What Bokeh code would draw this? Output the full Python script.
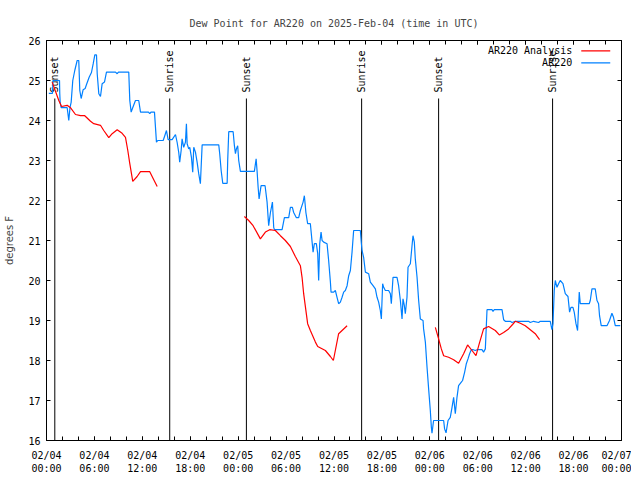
import math
from bokeh.plotting import figure
from bokeh.models import FixedTicker, LinearAxis, Range1d
from bokeh.core.properties import value
from bokeh.embed import file_html
from bokeh.resources import INLINE

title_text = "Dew Point for AR220 on 2025-Feb-04 (time in UTC)"
y_label = "degrees F"
obs_name = "AR220"
ana_name = "AR220 Analysis"

# hours since 2025-02-04 00:00 UTC
obs_hours = [0.29, 0.75, 0.81, 1.63, 1.66, 1.71, 1.84, 2.59, 2.79, 2.94, 3.09, 3.29, 3.54, 3.84, 4.04,
             4.17, 4.34, 4.59, 4.84, 5.01, 5.34, 5.63, 5.85, 6.05, 6.26, 6.35, 6.55, 6.76, 6.97, 7.26,
             7.51, 8.64, 8.85, 9.01, 10.30, 10.43, 10.60, 10.76, 11.14, 11.55, 11.77, 12.77, 12.93, 13.08, 13.52,
             13.77, 13.93, 14.61, 14.81, 15.02, 15.23, 15.73, 16.15, 16.36, 16.56, 16.68, 16.86, 16.98, 17.18,
             17.40, 17.52, 17.61, 17.81, 17.94, 18.15, 18.31, 18.44, 18.65, 18.86, 19.06, 19.27, 19.49, 21.57,
             21.69, 21.87, 22.07, 22.62, 22.69, 22.82, 23.37, 23.53, 23.66, 23.78, 23.94, 24.07, 24.28, 26.03,
             26.25, 26.37, 26.50, 26.62, 26.87, 27.37, 27.62, 27.82, 28.04, 28.29, 28.45, 28.54, 29.50, 29.79,
             30.33, 30.54, 30.79, 30.95, 31.29, 31.58, 31.79, 32.13, 32.29, 32.48, 32.70,
             33.04, 33.26, 33.38, 33.54, 33.79, 33.96, 34.08, 34.21, 34.38, 34.51, 34.71, 35.13, 35.33, 35.55,
             35.63, 35.96, 36.17, 36.38, 36.58, 36.80, 37.01, 37.21, 37.42, 37.64, 37.84, 38.05, 38.26, 38.46,
             39.30, 39.43, 39.51, 39.71, 39.93, 40.34, 40.55, 40.89, 41.18, 41.39, 41.59, 41.80, 41.93, 42.09,
             42.22, 42.43, 42.84, 43.06, 43.18, 43.39, 43.89, 44.09, 44.31, 44.52, 44.64, 44.81, 44.93, 45.14,
             45.27, 45.56, 45.77, 45.89, 46.06, 46.18, 46.40, 46.60, 46.81, 47.15, 47.22,
             47.44, 47.65, 47.85, 48.06, 48.19, 48.27, 48.47, 49.73, 49.85, 50.03, 50.28, 50.56, 50.78, 50.98,
             51.19, 51.40, 51.60, 51.94, 52.10, 52.36, 52.57, 52.78, 52.98, 53.19, 53.44, 53.69, 53.91, 54.53,
             54.73, 54.95, 55.16, 55.78, 55.91, 56.07, 57.04, 57.24, 57.45, 58.07, 58.29, 58.70, 60.36, 60.58,
             60.99, 61.62, 61.83, 63.08, 63.29, 63.42, 63.58,
             63.71, 63.92, 64.12, 64.33, 64.67, 64.96, 65.30, 65.50, 65.67, 65.92, 66.08, 66.30, 66.50, 66.71,
             66.84, 67.96, 68.09, 68.30, 68.71, 68.93, 69.13, 69.25, 69.46, 70.18, 70.50, 70.80, 71.00, 71.22, 71.84]
obs_values = [24.68, 24.68, 25.0, 25.0, 24.68, 24.46, 24.32, 24.32, 24.0, 24.32, 24.46, 25.0, 25.25, 25.5, 25.5,
              24.75, 24.55, 24.77, 24.8, 24.9, 25.08, 25.2, 25.42, 25.64, 25.64, 25.17, 24.67, 24.6, 24.92, 24.96,
              25.21, 25.21, 25.17, 25.21, 25.21, 24.5, 24.21, 24.3, 24.5, 24.5, 24.21, 24.21, 24.17, 24.21, 24.21,
              23.46, 23.5, 23.5, 23.62, 23.75, 23.52, 23.52, 23.65, 23.45, 23.2, 22.96, 23.25, 23.54, 23.33,
              23.46, 23.92, 23.42, 23.29, 23.33, 23.08, 22.71, 23.33, 23.21, 22.96, 22.67, 22.42, 23.39, 23.39,
              23.17, 22.75, 22.43, 22.43, 23.0, 23.72, 23.72, 23.37, 23.17, 23.29, 23.37, 23.0, 22.73, 22.73,
              23.04, 22.73, 22.33, 22.04, 22.37, 22.37, 21.96, 21.37, 21.7, 21.96, 21.33, 21.27, 21.27, 21.57,
              21.57, 21.83, 21.83, 21.7, 21.57, 21.57, 21.75, 21.96, 22.12, 21.7, 21.42,
              21.42, 20.96, 20.71, 20.92, 20.92, 20.67, 20.0, 20.92, 21.21, 21.0, 20.96, 20.92, 20.5, 19.96,
              19.71, 19.71, 19.75, 19.58, 19.42, 19.46, 19.58, 19.71, 19.75, 19.87, 20.12, 20.25, 20.71, 21.25,
              21.25, 20.92, 20.75, 20.58, 20.21, 20.17, 19.96, 19.87, 19.79, 19.58, 19.46, 19.25, 19.04, 19.92,
              19.83, 19.75, 19.75, 19.67, 19.42, 20.08, 20.08, 19.87, 19.5, 19.04, 19.54, 19.37, 19.17, 19.58,
              20.33, 20.42, 20.87, 21.12, 20.96, 20.54, 20.08, 19.5, 19.04, 19.0, 18.79,
              18.46, 17.83, 17.29, 16.75, 16.33, 16.18, 16.5, 16.5, 16.29, 16.19, 16.5, 16.58, 16.83, 17.08,
              16.67, 17.08, 17.37, 17.46, 17.5, 17.71, 17.92, 18.04, 18.17, 18.27, 18.27, 18.25, 18.27, 18.27,
              18.21, 18.29, 19.27, 19.27, 19.23, 19.27, 19.27, 19.02, 18.98, 18.98, 18.95, 18.98, 18.98, 18.95,
              18.98, 18.95, 18.98, 18.98, 18.77, 18.92, 19.75,
              20.0, 19.83, 19.92, 20.0, 19.92, 19.67, 19.6, 19.21, 19.33, 19.33, 19.21, 18.92, 18.75, 19.71,
              19.42, 19.42, 19.5, 19.79, 19.79, 19.5, 19.42, 19.12, 18.87, 18.87, 19.0, 19.18, 19.08, 18.87, 18.87]

nan = float("nan")
ana_hours = [0.71, 1.54, 1.88, 2.59, 3.00, 3.63, 4.26, 4.79, 5.51, 5.92, 6.76, 7.17, 7.80, 8.22, 8.85,
             9.47, 9.89, 10.18, 10.43, 10.80, 11.35, 11.77, 12.93, 13.43, 13.86,
             nan,
             24.78, 25.32, 25.87, 26.78, 27.41, 27.95, 28.66, 29.29, 29.91, 30.54, 31.16, 31.79, 32.00, 32.20,
             32.70, 33.04, 33.67, 33.96, 34.92, 35.55, 35.92, 36.58, 37.64,
             nan,
             48.69, 49.10, 49.44, 49.73, 50.35, 50.98, 51.60, 52.23, 52.73, 53.28, 53.78, 54.19, 54.73, 55.36,
             56.20, 56.70, 57.24, 57.86, 58.36, 58.70, 59.33, 59.95, 60.58, 61.20, 61.74]
ana_values = [24.96, 24.5, 24.35, 24.38, 24.32, 24.15, 24.12, 24.12, 23.98, 23.92, 23.88, 23.75, 23.57, 23.67, 23.77,
              23.68, 23.58, 23.25, 22.92, 22.48, 22.6, 22.72, 22.72, 22.52, 22.35,
              nan,
              21.6, 21.5, 21.37, 21.04, 21.21, 21.27, 21.25, 21.12, 21.0, 20.85, 20.6, 20.37, 20.08, 19.67,
              18.92, 18.75, 18.46, 18.35, 18.25, 18.1, 18.0, 18.67, 18.87,
              nan,
              18.83, 18.54, 18.29, 18.12, 18.08, 18.02, 17.93, 18.17, 18.39, 18.25, 18.12, 18.42, 18.79, 18.85,
              18.75, 18.64, 18.7, 18.79, 18.9, 18.98, 18.93, 18.87, 18.77, 18.67, 18.52]

sun_hours = [1.04, 15.43, 25.03, 39.46, 49.10, 63.37]
sun_labels = ["Sunset", "Sunrise", "Sunset", "Sunrise", "Sunset", "Sunrise"]

x_ticks = [0, 6, 12, 18, 24, 30, 36, 42, 48, 54, 60, 66, 72]
x_minor = [0, 2, 4, 6, 8, 10, 12, 14, 16, 18, 20, 22, 24, 26, 28, 30, 32, 34, 36, 38, 40, 42, 44, 46,
           48, 50, 52, 54, 56, 58, 60, 62, 64, 66, 68, 70, 72]
x_tick_labels = ["02/04\n00:00", "02/04\n06:00", "02/04\n12:00", "02/04\n18:00",
                 "02/05\n00:00", "02/05\n06:00", "02/05\n12:00", "02/05\n18:00",
                 "02/06\n00:00", "02/06\n06:00", "02/06\n12:00", "02/06\n18:00", "02/07\n00:00"]
y_ticks = [16, 17, 18, 19, 20, 21, 22, 23, 24, 25, 26]

X0, X1, Y0, Y1 = 0, 72, 16, 26
RED = "#ff0000"
BLUE = "#0080ff"
MONO = "DejaVu Sans Mono"

p = figure(frame_width=575, frame_height=400, x_range=Range1d(X0, X1), y_range=Range1d(Y0, Y1),
           output_backend="svg", toolbar_location=None,
           min_border_left=46, min_border_right=10, min_border_top=40, min_border_bottom=32,
           title=title_text)
p.background_fill_color = "white"
p.border_fill_color = "white"
p.outline_line_color = "black"
p.outline_line_width = 1
p.xgrid.visible = False
p.ygrid.visible = False

p.title.text_font = MONO
p.title.text_font_size = "10px"
p.title.text_font_style = "normal"
p.title.align = "center"
p.title.vertical_align = "top"
p.title.standoff = 20

def style_axis(ax, show_labels):
    ax.axis_line_color = None
    ax.major_tick_in = 4
    ax.major_tick_out = 0
    ax.minor_tick_in = 4
    ax.minor_tick_out = 0
    ax.major_tick_line_color = "black"
    ax.minor_tick_line_color = "black"
    ax.major_label_text_font = MONO
    if show_labels:
        ax.major_label_text_font_size = "10px"
        ax.major_label_text_color = "black"
    else:
        ax.major_label_text_font_size = "0px"
        ax.major_label_text_color = None
        ax.major_label_standoff = 0

xt = FixedTicker(ticks=x_ticks, minor_ticks=x_minor)
yt = FixedTicker(ticks=y_ticks, minor_ticks=[])
p.xaxis.ticker = xt
p.yaxis.ticker = yt
p.xaxis.major_label_overrides = {t: l for t, l in zip(x_ticks, x_tick_labels)}
style_axis(p.xaxis[0], True)
style_axis(p.yaxis[0], True)
p.xaxis.major_label_standoff = 9
p.yaxis.major_label_standoff = 6
p.yaxis.axis_label = y_label
p.yaxis.axis_label_text_font = "DejaVu Sans"
p.yaxis.axis_label_text_font_size = "10px"
p.yaxis.axis_label_text_font_style = "normal"
p.yaxis.axis_label_standoff = 10

top = LinearAxis(ticker=FixedTicker(ticks=x_ticks, minor_ticks=x_minor))
style_axis(top, False)
p.add_layout(top, "above")
right = LinearAxis(ticker=FixedTicker(ticks=y_ticks, minor_ticks=[]))
style_axis(right, False)
p.add_layout(right, "right")

# sunrise / sunset markers
line_top = Y0 + 0.855 * (Y1 - Y0)
label_y = Y0 + 0.87 * (Y1 - Y0)
p.segment(x0=sun_hours, y0=[Y0] * len(sun_hours), x1=sun_hours, y1=[line_top] * len(sun_hours),
          line_color="black", line_width=1)
p.text(x=sun_hours, y=[label_y] * len(sun_hours), text=sun_labels, angle=math.pi / 2,
       text_align="left", text_baseline="middle", text_font=value(MONO), text_font_size="10px",
       text_color="black")

# data
p.line(obs_hours, obs_values, line_color=BLUE, line_width=1.2)
p.line(ana_hours, ana_values, line_color=RED, line_width=1.2)

# legend (label left, sample right)
leg_text_x = 65.83
leg_x0, leg_x1 = 66.96, 70.59
leg_y = [25.74, 25.44]
p.text(x=[leg_text_x] * 2, y=leg_y, text=[ana_name, obs_name], text_align="right",
       text_baseline="middle", text_font=value(MONO), text_font_size="10px", text_color="black")
p.segment(x0=[leg_x0] * 2, y0=leg_y, x1=[leg_x1] * 2, y1=leg_y, line_color=[RED, BLUE], line_width=1.2)

open("out.html", "w").write(file_html(p, INLINE))
